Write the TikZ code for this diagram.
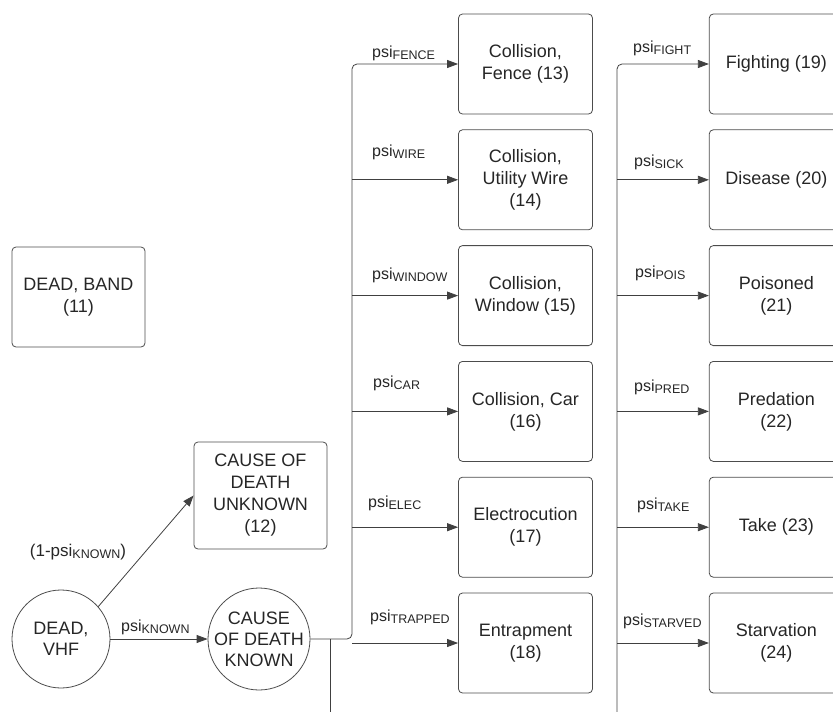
\documentclass[tikz,border=0pt]{standalone}
\usepackage{fontspec}
\setmainfont{Liberation Sans}
\usepackage{tikz}
\usetikzlibrary{positioning, arrows.meta, shapes}

\newcommand{\psisub}[1]{psi\raisebox{-2.5pt}{\fontsize{12.5}{13}\selectfont #1}}

\begin{document}
\begin{tikzpicture}[
  x=1pt, y=-1pt,
  node distance=15pt and 116pt,
  every node/.style={text=black!85},
  box/.style={draw=black!70, line width=0.8pt, rounded corners=4pt, minimum width=134pt, minimum height=100pt, align=center, font=\fontsize{18}{22}\selectfont},
  state/.style={circle, draw=black!70, line width=0.8pt, inner sep=-3pt, align=center, font=\fontsize{18}{21}\selectfont},
  lbl/.style={anchor=west, inner sep=0pt, font=\fontsize{16}{18}\selectfont},
  arrow/.style={-{Triangle[length=11pt, width=8pt]}, draw=black!75, line width=0.8pt},
  line/.style={draw=black!75, line width=0.8pt},
]
\useasboundingbox (0,0) rectangle (833,712);
\clip (0,0) rectangle (833,712);

% Left part
\node[box, minimum width=133pt] (band) at (78.5,297) {DEAD, BAND\\(11)};
\node[box, minimum width=133pt, minimum height=107pt] (unknown) at (260.5,495.5) {CAUSE OF\\DEATH\\UNKNOWN\\(12)};
\node[state, minimum size=98pt] (vhf) at (61,639) {DEAD,\\VHF};
\node[state, minimum size=102pt] (known) at (259,639) {CAUSE\\OF DEATH\\KNOWN};
\draw[arrow] (vhf.east) -- (known.west);
\draw[arrow] (vhf.41) -- (unknown.west);
\node[lbl] at (121,627) {\psisub{KNOWN}};
\node[lbl, anchor=center, font=\fontsize{17}{18}\selectfont] at (78,552) {(1-\psisub{KNOWN})};

% Collision causes (middle column)
\node[box] (fence) at (525.5,64) {Collision,\\Fence (13)};
\node[box, below=of fence] (wire) {Collision,\\Utility Wire\\(14)};
\node[box, below=of wire] (window) {Collision,\\Window (15)};
\node[box, below=of window] (car) {Collision, Car\\(16)};
\node[box, below=of car] (elec) {Electrocution\\(17)};
\node[box, below=of elec] (trapped) {Entrapment\\(18)};

% Other causes (right column)
\node[box, right=of fence] (fight) {Fighting (19)};
\node[box, below=of fight] (sick) {Disease (20)};
\node[box, below=of sick] (pois) {Poisoned\\(21)};
\node[box, below=of pois] (pred) {Predation\\(22)};
\node[box, below=of pred] (take) {Take (23)};
\node[box, below=of take] (starved) {Starvation\\(24)};

% Trunks
\coordinate (t1) at (352,639);
\coordinate (drop1) at (330,740);
\coordinate (drop2) at (617,740);
\draw[arrow, rounded corners=5pt] (known.east) -- (t1) |- (fence.west);
\draw[arrow] (trapped.west -| t1) -- (trapped.west);
\draw[arrow] (wire.west -| t1) -- (wire.west);
\draw[arrow] (window.west -| t1) -- (window.west);
\draw[arrow] (car.west -| t1) -- (car.west);
\draw[arrow] (elec.west -| t1) -- (elec.west);
\draw[line] (known.east -| drop1) -- (drop1);

\draw[arrow, rounded corners=5pt] (drop2) |- (fight.west);
\draw[arrow] (sick.west -| drop2) -- (sick.west);
\draw[arrow] (pois.west -| drop2) -- (pois.west);
\draw[arrow] (pred.west -| drop2) -- (pred.west);
\draw[arrow] (take.west -| drop2) -- (take.west);
\draw[arrow] (starved.west -| drop2) -- (starved.west);

% Labels
\node[lbl] at (372,53) {\psisub{FENCE}};
\node[lbl] at (372,152) {\psisub{WIRE}};
\node[lbl] at (372,275) {\psisub{WINDOW}};
\node[lbl] at (373,383) {\psisub{CAR}};
\node[lbl] at (368,503) {\psisub{ELEC}};
\node[lbl] at (370,617) {\psisub{TRAPPED}};
\node[lbl] at (633,48) {\psisub{FIGHT}};
\node[lbl] at (634,162) {\psisub{SICK}};
\node[lbl] at (635,273) {\psisub{POIS}};
\node[lbl] at (634,387) {\psisub{PRED}};
\node[lbl] at (637,505) {\psisub{TAKE}};
\node[lbl] at (623,621) {\psisub{STARVED}};
\end{tikzpicture}
\end{document}
